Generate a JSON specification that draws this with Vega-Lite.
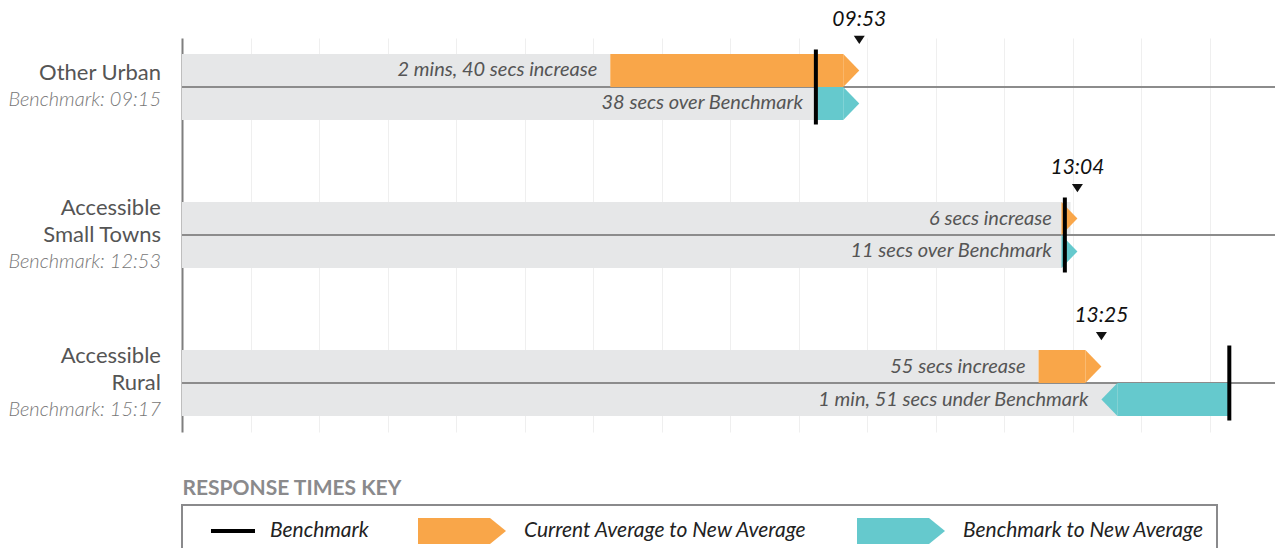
{
  "$schema": "https://vega.github.io/schema/vega-lite/v6.json",
  "width": 1093,
  "height": 394,
  "autosize": {"type": "none"},
  "padding": {"left": 182, "top": 38, "right": 0, "bottom": 116},
  "background": "white",
  "config": {
    "view": {"stroke": null},
    "font": "Lato",
    "legend": {"strokeWidth": 2}
  },
  "datasets": {
    "regions": [
      {"region": "Other Urban", "benchmark": 555, "seg": "Benchmark", "new_label": "09:53", "new_avg": 593},
      {"region": "Accessible Small Towns", "benchmark": 773, "seg": "Benchmark", "new_label": "13:04", "new_avg": 784},
      {"region": "Accessible Rural", "benchmark": 917, "seg": "Benchmark", "new_label": "13:25", "new_avg": 805}
    ],
    "labels": [
      {"region": "Other Urban", "kind": "name", "text": "Other Urban", "line": 1, "of": 2},
      {"region": "Other Urban", "kind": "bench", "text": "Benchmark: 09:15", "line": 2, "of": 2},
      {"region": "Accessible Small Towns", "kind": "name", "text": "Accessible", "line": 1, "of": 3},
      {"region": "Accessible Small Towns", "kind": "name", "text": "Small Towns", "line": 2, "of": 3},
      {"region": "Accessible Small Towns", "kind": "bench", "text": "Benchmark: 12:53", "line": 3, "of": 3},
      {"region": "Accessible Rural", "kind": "name", "text": "Accessible", "line": 1, "of": 3},
      {"region": "Accessible Rural", "kind": "name", "text": "Rural", "line": 2, "of": 3},
      {"region": "Accessible Rural", "kind": "bench", "text": "Benchmark: 15:17", "line": 3, "of": 3}
    ],
    "lanes": [
      {"region": "Other Urban", "lane": "top", "grey_end": 375, "seg": "Current Average to New Average", "start": 375, "body_end": 579, "tip": 593, "dir": "right", "note": "2 mins, 40 secs increase", "note_at": 375},
      {"region": "Other Urban", "lane": "bottom", "grey_end": 555, "seg": "Benchmark to New Average", "start": 555, "body_end": 579, "tip": 593, "dir": "right", "note": "38 secs over Benchmark", "note_at": 555},
      {"region": "Accessible Small Towns", "lane": "top", "grey_end": 778, "seg": "Current Average to New Average", "start": 778, "body_end": 778, "tip": 784, "dir": "right", "note": "6 secs increase", "note_at": 773},
      {"region": "Accessible Small Towns", "lane": "bottom", "grey_end": 773, "seg": "Benchmark to New Average", "start": 773, "body_end": 773, "tip": 784, "dir": "right", "note": "11 secs over Benchmark", "note_at": 773},
      {"region": "Accessible Rural", "lane": "top", "grey_end": 750, "seg": "Current Average to New Average", "start": 750, "body_end": 791, "tip": 805, "dir": "right", "note": "55 secs increase", "note_at": 750},
      {"region": "Accessible Rural", "lane": "bottom", "grey_end": 819, "seg": "Benchmark to New Average", "start": 917, "body_end": 819, "tip": 805, "dir": "left", "note": "1 min, 51 secs under Benchmark", "note_at": 805}
    ]
  },
  "layer": [
    {
      "data": {"name": "lanes"},
      "mark": {"type": "bar", "color": "#e6e7e8"},
      "encoding": {
        "y": {
          "field": "region", "type": "nominal",
          "scale": {"domain": ["Other Urban", "Accessible Small Towns", "Accessible Rural"], "paddingInner": 0.338, "paddingOuter": 0},
          "axis": {"title": null, "labels": false, "ticks": false, "grid": false, "domain": true, "domainColor": "#7f7f7f", "domainWidth": 2}
        },
        "yOffset": {"field": "lane", "type": "nominal", "scale": {"domain": ["top", "bottom"], "paddingInner": 0, "paddingOuter": 0.485}},
        "x": {
          "field": "start", "type": "quantitative",
          "scale": {"domain": [0, 957], "nice": false, "zero": false},
          "axis": {
            "values": [60, 120, 180, 240, 300, 360, 420, 480, 540, 600, 660, 720, 780, 840, 900],
            "grid": true, "gridColor": "#efefef", "gridWidth": 1,
            "labels": false, "ticks": false, "domain": false,
            "title": "RESPONSE TIMES KEY",
            "titleFont": "Lato", "titleFontWeight": "bold", "titleFontSize": 21, "titleColor": "#8a8a8c",
            "titleAnchor": "start", "titleAlign": "left", "titleBaseline": "middle",
            "titleX": 0, "titleY": 56
          }
        },
        "x2": {"datum": 0}
      }
    },
    {
      "data": {"name": "regions"},
      "mark": {"type": "rule", "color": "#8c8c8c", "strokeWidth": 2},
      "encoding": {
        "y": {"field": "region", "type": "nominal"},
        "x": {"datum": 0, "type": "quantitative"},
        "x2": {"datum": 957}
      }
    },
    {
      "data": {"name": "lanes"},
      "mark": {"type": "bar"},
      "encoding": {
        "y": {"field": "region", "type": "nominal"},
        "yOffset": {"field": "lane", "type": "nominal"},
        "x": {"field": "start", "type": "quantitative"},
        "x2": {"field": "body_end"},
        "color": {
          "field": "seg", "type": "nominal",
          "scale": {"domain": ["Benchmark", "Current Average to New Average", "Benchmark to New Average"], "range": ["#000000", "#f9a649", "#65c9cd"]},
          "legend": {
            "title": null,
            "orient": "none", "legendX": 0, "legendY": 467,
            "direction": "horizontal",
            "padding": 12,
            "columnPadding": 45,
            "strokeColor": "#8a8a8c",
            "symbolSize": 676,
            "labelOffset": 48,
            "labelFont": "Lato", "labelFontStyle": "italic", "labelFontSize": 21, "labelColor": "#222222", "labelLimit": 500,
            "labelExpr": "datum.label == 'Benchmark to New Average' ? datum.label + '       ' : datum.label",
            "encode": {
              "symbols": {"update": {
                "shape": {"signal": "datum.value === 'Benchmark' ? 'M-1,-1L-1,-1M-1,1L-1,1M0.23,-0.154L3.615,-0.154L3.615,0.154L0.23,0.154Z' : 'M-3.385,-1L2.154,-1L3.385,0L2.154,1L-3.385,1Z'"},
                "fill": {"signal": "scale('color', datum.value)"},
                "stroke": {"value": "transparent"},
                "opacity": {"value": 1}
              }}
            }
          }
        }
      }
    },
    {
      "data": {"name": "lanes"},
      "mark": {"type": "point", "filled": true, "opacity": 1, "size": 1089, "strokeWidth": 0},
      "encoding": {
        "y": {"field": "region", "type": "nominal"},
        "yOffset": {"field": "lane", "type": "nominal"},
        "x": {"field": "tip", "type": "quantitative"},
        "shape": {"field": "dir", "type": "nominal", "scale": {"domain": ["right", "left"], "range": ["M-0.97,-1L0,0L-0.97,1Z", "M0.97,-1L0,0L0.97,1Z"]}, "legend": null},
        "color": {"field": "seg", "type": "nominal"}
      }
    },
    {
      "data": {"name": "regions"},
      "mark": {"type": "tick", "thickness": 4, "size": 75, "opacity": 1},
      "encoding": {
        "y": {"field": "region", "type": "nominal"},
        "x": {"field": "benchmark", "type": "quantitative"},
        "color": {"field": "seg", "type": "nominal"}
      }
    },
    {
      "data": {"name": "lanes"},
      "mark": {"type": "text", "align": "right", "baseline": "middle", "dx": -13, "font": "Lato", "fontStyle": "italic", "fontSize": 20, "color": "#555555"},
      "encoding": {
        "y": {"field": "region", "type": "nominal"},
        "yOffset": {"field": "lane", "type": "nominal"},
        "x": {"field": "note_at", "type": "quantitative"},
        "text": {"field": "note"}
      }
    },
    {
      "data": {"name": "regions"},
      "mark": {"type": "point", "filled": true, "opacity": 1, "size": 121, "color": "#111111", "shape": "M-1,-0.75L1,-0.75L0,0.75Z", "yOffset": -47},
      "encoding": {
        "y": {"field": "region", "type": "nominal"},
        "x": {"field": "new_avg", "type": "quantitative"}
      }
    },
    {
      "data": {"name": "regions"},
      "mark": {"type": "text", "align": "center", "baseline": "middle", "font": "Lato", "fontStyle": "italic", "fontSize": 21, "color": "#111111", "yOffset": -67},
      "encoding": {
        "y": {"field": "region", "type": "nominal"},
        "x": {"field": "new_avg", "type": "quantitative"},
        "text": {"field": "new_label"}
      }
    },
    {
      "data": {"name": "labels"},
      "transform": [{"filter": "datum.kind == 'name' && datum.line - (datum.of + 1) / 2 == -1"}],
      "mark": {"type": "text", "align": "right", "baseline": "middle", "dx": -21, "yOffset": -27, "font": "Lato", "fontSize": 22, "color": "#555555"},
      "encoding": {
        "y": {"field": "region", "type": "nominal"},
        "x": {"datum": 0, "type": "quantitative"},
        "text": {"field": "text"}
      }
    },
    {
      "data": {"name": "labels"},
      "transform": [{"filter": "datum.kind == 'name' && datum.line - (datum.of + 1) / 2 == -0.5"}],
      "mark": {"type": "text", "align": "right", "baseline": "middle", "dx": -21, "yOffset": -13.5, "font": "Lato", "fontSize": 22, "color": "#555555"},
      "encoding": {
        "y": {"field": "region", "type": "nominal"},
        "x": {"datum": 0, "type": "quantitative"},
        "text": {"field": "text"}
      }
    },
    {
      "data": {"name": "labels"},
      "transform": [{"filter": "datum.kind == 'name' && datum.line - (datum.of + 1) / 2 == 0"}],
      "mark": {"type": "text", "align": "right", "baseline": "middle", "dx": -21, "yOffset": 0, "font": "Lato", "fontSize": 22, "color": "#555555"},
      "encoding": {
        "y": {"field": "region", "type": "nominal"},
        "x": {"datum": 0, "type": "quantitative"},
        "text": {"field": "text"}
      }
    },
    {
      "data": {"name": "labels"},
      "transform": [{"filter": "datum.kind == 'bench' && datum.line - (datum.of + 1) / 2 == 0.5"}],
      "mark": {"type": "text", "align": "right", "baseline": "middle", "dx": -21, "yOffset": 13.5, "font": "Lato", "fontStyle": "italic", "fontWeight": 300, "fontSize": 20, "color": "#777777"},
      "encoding": {
        "y": {"field": "region", "type": "nominal"},
        "x": {"datum": 0, "type": "quantitative"},
        "text": {"field": "text"}
      }
    },
    {
      "data": {"name": "labels"},
      "transform": [{"filter": "datum.kind == 'bench' && datum.line - (datum.of + 1) / 2 == 1"}],
      "mark": {"type": "text", "align": "right", "baseline": "middle", "dx": -21, "yOffset": 27, "font": "Lato", "fontStyle": "italic", "fontWeight": 300, "fontSize": 20, "color": "#777777"},
      "encoding": {
        "y": {"field": "region", "type": "nominal"},
        "x": {"datum": 0, "type": "quantitative"},
        "text": {"field": "text"}
      }
    }
  ]
}
